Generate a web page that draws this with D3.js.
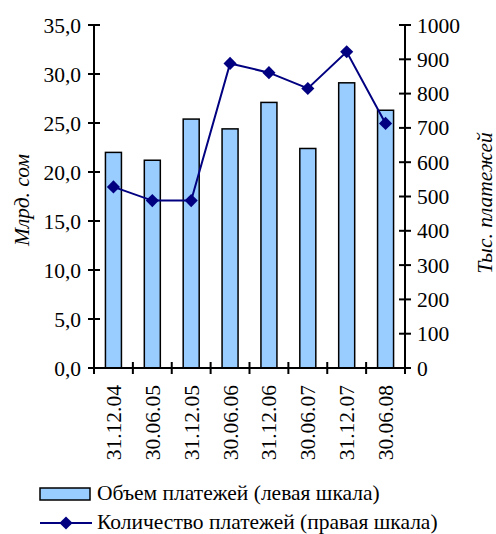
<!DOCTYPE html>
<html><head><meta charset="utf-8">
<script src="https://cdn.jsdelivr.net/npm/d3@7"></script>
<style>
body{margin:0;background:#fff}
svg{display:block}
svg text{font-family:'Liberation Serif','Times New Roman',serif}
</style>
</head><body><svg id="c" width="496" height="534"></svg>
<script>
const categories=["31.12.04","30.06.05","31.12.05","30.06.06","31.12.06","30.06.07","31.12.07","30.06.08"];
const volume=[22.0,21.2,25.4,24.4,27.1,22.4,29.1,26.3];
const count=[528,488,488,888,861,815,922,713];
const leftTicks=[0,5,10,15,20,25,30,35];
const rightTicks=[0,100,200,300,400,500,600,700,800,900,1000];
const legendLabels=["Объем платежей (левая шкала)","Количество платежей (правая шкала)"];
const axisTitles=["Млрд. сом","Тыс. платежей"];

const svg=d3.select("#c");
const L=94,R=405,T=25,B=368;
const xc=d3.scalePoint().domain(categories).range([L,R]).padding(0.5);
const yL=d3.scaleLinear().domain([0,35]).range([B,T]);
const yR=d3.scaleLinear().domain([0,1000]).range([B,T]);
const txt=sel=>sel.style("font-family","'Liberation Serif', 'Times New Roman', serif")
  .style("font-size","21.5px").attr("fill","#000");

// bars
svg.append("g").selectAll("rect").data(volume).join("rect")
 .attr("x",(d,i)=>xc(categories[i])-8).attr("width",16)
 .attr("y",d=>yL(d)).attr("height",d=>B-yL(d))
 .attr("fill","#99ccff").attr("stroke","#000").attr("stroke-width",1.5);

// axes
const ax=svg.append("g").attr("stroke","#000").attr("stroke-width",2);
ax.append("line").attr("x1",L).attr("x2",L).attr("y1",T).attr("y2",B);
ax.append("line").attr("x1",R).attr("x2",R).attr("y1",T).attr("y2",B);
ax.append("line").attr("x1",L).attr("x2",R).attr("y1",B).attr("y2",B);
ax.selectAll(".lt").data(leftTicks).join("line").attr("x1",L-6).attr("x2",L+6).attr("y1",d=>yL(d)).attr("y2",d=>yL(d));
ax.selectAll(".rt").data(rightTicks).join("line").attr("x1",R-6).attr("x2",R+6).attr("y1",d=>yR(d)).attr("y2",d=>yR(d));
const step=(R-L)/categories.length;
ax.selectAll(".ct").data(d3.range(categories.length+1)).join("line").attr("x1",d=>L+d*step).attr("x2",d=>L+d*step).attr("y1",B-6).attr("y2",B+6);

svg.append("g").selectAll("text").data(leftTicks).join("text")
 .attr("x",81).attr("y",d=>yL(d)).attr("dy","0.35em").attr("text-anchor","end")
 .call(txt).text(d=>d3.format(".1f")(d).replace(".",","));
svg.append("g").selectAll("text").data(rightTicks).join("text")
 .attr("x",417).attr("y",d=>yR(d)).attr("dy","0.35em").attr("text-anchor","start")
 .call(txt).text(d=>d);
svg.append("g").selectAll("text").data(categories).join("text")
 .attr("transform",d=>`translate(${xc(d)},385) rotate(-90)`).attr("dy","0.35em").attr("text-anchor","end")
 .call(txt).text(d=>d);

svg.append("text").attr("transform","translate(21,200) rotate(-90)").attr("dy","0.35em").attr("text-anchor","middle").call(txt).style("font-style","italic").text(axisTitles[0]);
svg.append("text").attr("transform","translate(484,203) rotate(-90)").attr("dy","0.35em").attr("text-anchor","middle").call(txt).style("font-style","italic").text(axisTitles[1]);

// line
const line=d3.line().x((d,i)=>xc(categories[i])).y(d=>yR(d));
svg.append("path").datum(count).attr("d",line).attr("fill","none").attr("stroke","#000080").attr("stroke-width",2);
const diamond=d3.symbol().type(d3.symbolDiamond2).size(110);
svg.append("g").selectAll("path").data(count).join("path")
 .attr("transform",(d,i)=>`translate(${xc(categories[i])},${yR(d)})`)
 .attr("d",diamond).attr("fill","#000080");

// legend
svg.append("rect").attr("x",40).attr("y",488).attr("width",50).attr("height",12).attr("fill","#99ccff").attr("stroke","#000").attr("stroke-width",1.5);
svg.append("text").attr("x",97).attr("y",492).attr("dy","0.35em").call(txt).text(legendLabels[0]);
svg.append("line").attr("x1",40).attr("x2",92).attr("y1",523).attr("y2",523).attr("stroke","#000080").attr("stroke-width",2);
svg.append("path").attr("transform","translate(66,523)").attr("d",diamond).attr("fill","#000080");
svg.append("text").attr("x",97).attr("y",521).attr("dy","0.35em").call(txt).text(legendLabels[1]);
</script></body></html>
